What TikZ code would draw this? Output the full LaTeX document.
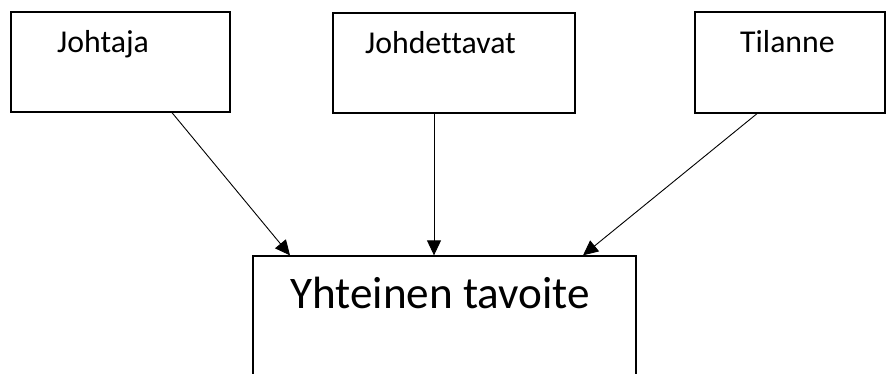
\documentclass[tikz,border=0pt]{standalone}
\usepackage{fontspec}
\setmainfont[Ligatures=NoCommon]{Carlito}
\usetikzlibrary{arrows.meta}
\begin{document}
\begin{tikzpicture}[x=1pt,y=-1pt,
  box/.style={draw=black,line width=1.3pt,rectangle,inner sep=0pt},
  lbl/.style={anchor=base west,inner sep=0pt,font=\fontsize{31.8}{36}\selectfont},
  big/.style={anchor=base west,inner sep=0pt,font=\fontsize{45.2}{50}\selectfont},
  conn/.style={draw=black,line width=0.9pt,-{Triangle[length=15pt,width=14pt]}}]
\clip (0,0) rectangle (886,374);
\fill[white] (0,0) rectangle (886,374);
\node[box,minimum width=219pt,minimum height=100pt] (j) at (120.5,62) {};
\node[box,minimum width=242pt,minimum height=100pt] (d) at (454,63) {};
\node[box,minimum width=190pt,minimum height=101pt] (t) at (790,62.5) {};
\node[box,minimum width=383pt,minimum height=150pt] (y) at (444.5,331) {};
\node[lbl] (jl) at (57,53) {Johtaja};
\node[lbl] (dl) at (365,54) {Johdettavat};
\node[lbl] (tl) at (740,53) {Tilanne};
\node[big] (yl) at (290,308) {Yhteinen tavoite};
\draw[conn] ([xshift=51.5pt]j.south) -- ([xshift=-154.5pt]y.north);
\draw[conn] ([xshift=-20pt]d.south) -- ([xshift=-10.5pt]y.north);
\draw[conn] ([xshift=-33pt]t.south) -- ([xshift=138.5pt]y.north);
\end{tikzpicture}
\end{document}
